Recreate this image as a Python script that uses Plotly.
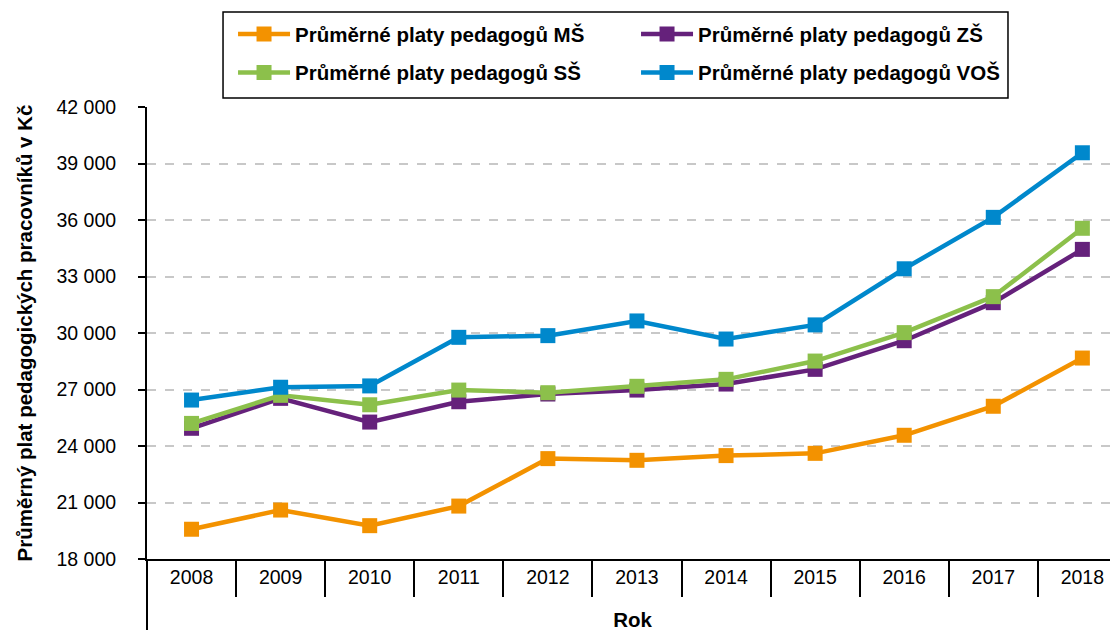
"""Average salaries of teaching staff by school type, 2008-2018."""

import plotly.graph_objects as go

years = [2008, 2009, 2010, 2011, 2012, 2013, 2014, 2015, 2016, 2017, 2018]
plat_ms = [19580, 20600, 19770, 20810, 23330, 23240, 23490, 23610, 24570, 26110, 28670]
plat_zs = [24940, 26530, 25270, 26350, 26760, 26970, 27290, 28070, 29590, 31610, 34440]
plat_ss = [25200, 26690, 26190, 26970, 26830, 27170, 27540, 28510, 30020, 31930, 35560]
plat_vos = [26440, 27120, 27190, 29770, 29860, 30640, 29680, 30430, 33410, 36140, 39570]
y_ticks = [18000, 21000, 24000, 27000, 30000, 33000, 36000, 39000, 42000]
y_ticktext = ["18 000", "21 000", "24 000", "27 000", "30 000", "33 000",
              "36 000", "39 000", "42 000"]

# name, values, colour, legend row
series = [
    ("Průměrné platy pedagogů MŠ", plat_ms, "#F39200", "legend"),
    ("Průměrné platy pedagogů ZŠ", plat_zs, "#65217B", "legend"),
    ("Průměrné platy pedagogů SŠ", plat_ss, "#8CC04B", "legend2"),
    ("Průměrné platy pedagogů VOŠ", plat_vos, "#0088CC", "legend2"),
]

FONT = "Liberation Sans, Arial, Helvetica, sans-serif"

fig = go.Figure()
for name, values, color, leg in series:
    fig.add_trace(
        go.Scatter(
            x=years,
            y=values,
            name=name,
            legend=leg,
            mode="lines+markers",
            line=dict(color=color, width=4.5),
            marker=dict(symbol="square", size=15, color=color),
        )
    )

legend_style = dict(
    orientation="h",
    x=0.0886,
    xanchor="left",
    yanchor="middle",
    entrywidth=336,
    itemwidth=52,
    borderwidth=0,
    bgcolor="rgba(0,0,0,0)",
    font=dict(family=FONT, size=20.5, weight="bold"),
    traceorder="normal",
)

fig.update_layout(
    width=1118,
    height=630,
    margin=dict(l=139, r=8, t=99, b=79, autoexpand=False),
    plot_bgcolor="white",
    paper_bgcolor="white",
    font=dict(family=FONT, size=19.5, color="black"),
    showlegend=True,
    legend=dict(legend_style, y=1.161),
    legend2=dict(legend_style, y=1.076),
)

fig.update_xaxes(
    range=[2007.5, 2018.4],
    tickmode="array",
    tickvals=years,
    ticktext=[str(y) for y in years],
    ticks="",
    showgrid=False,
    showline=True,
    linecolor="black",
    linewidth=2,
    ticklabelstandoff=0,
    automargin=False,
    minor=dict(
        tickmode="array",
        tickvals=[y + 0.5 for y in years[:-1]],
        ticks="outside",
        ticklen=36,
        tickwidth=2,
        tickcolor="black",
        showgrid=False,
    ),
    title=dict(text="Rok", font=dict(family=FONT, size=20.5, weight="bold"), standoff=25),
    zeroline=False,
)

fig.update_yaxes(
    range=[18000, 42000],
    tickmode="array",
    tickvals=y_ticks,
    ticktext=y_ticktext,
    ticks="outside",
    ticklen=7,
    tickwidth=2,
    tickcolor="black",
    ticklabelstandoff=18,
    showline=True,
    linecolor="black",
    linewidth=2,
    showgrid=True,
    gridcolor="#C8C8C8",
    griddash="dash",
    gridwidth=1.5,
    zeroline=False,
    automargin=False,
    title=dict(
        # trailing no-break spaces nudge the rotated title a little lower
        text="Průměrný plat pedagogických pracovníků v Kč" + "\u00a0" * 5,
        font=dict(family=FONT, size=20.5, weight="bold"),
        standoff=18,
    ),
)

# frame round both legend rows
fig.add_shape(
    type="rect",
    xref="paper",
    yref="paper",
    x0=0.0783,
    x1=0.8867,
    y0=1.020,
    y1=1.210,
    line=dict(color="black", width=1.5),
)

# y axis line continues below the category row, as in the source chart
fig.add_shape(
    type="line",
    xref="paper",
    yref="paper",
    x0=0,
    x1=0,
    y0=0,
    y1=-0.16,
    line=dict(color="black", width=2),
)

fig.write_html("out.html")
